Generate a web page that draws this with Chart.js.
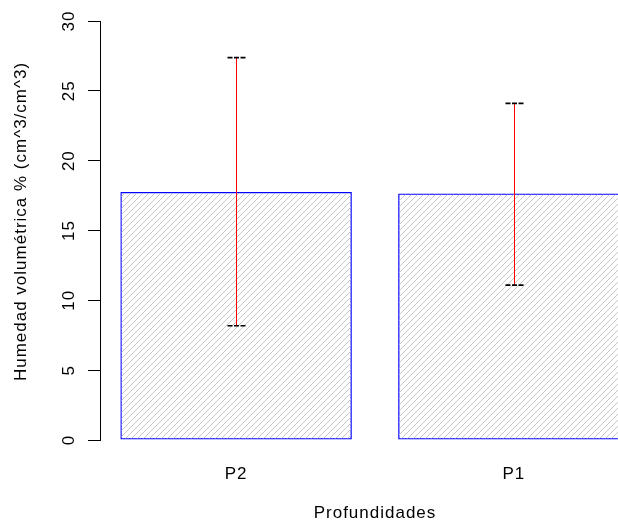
<!DOCTYPE html>
<html>
<head>
<meta charset="utf-8">
<script src="https://cdn.jsdelivr.net/npm/chart.js@4"></script>
<style>
  html, body { margin: 0; padding: 0; background: #fff; overflow: hidden; }
  #wrap { width: 618px; height: 525px; overflow: hidden; }
</style>
</head>
<body>
<div id="wrap"><canvas id="grafico" width="650" height="525"></canvas></div>
<script>
// datos
var categorias = ['P2', 'P1'];
var medias = [17.76, 17.65];
var limInf = [8.18, 11.09];
var limSup = [27.38, 24.1];
var yTicks = [0, 5, 10, 15, 20, 25, 30];
var tituloY = 'Humedad volumétrica % (cm^3/cm^3)';
var tituloX = 'Profundidades';

// posiciones estilo barplot de R (ancho 1, space 0.2)
var space = 0.2;
var posiciones = categorias.map(function (c, i) { return space + i * (1 + space) + 0.5; });
var rango = categorias.length * (1 + space) - space;
var xmin = space - 0.04 * rango;
var xmax = categorias.length * (1 + space) + 0.04 * rango;

var fuente = '"Liberation Sans", Arial, sans-serif';

function rayado() {
  var c = document.createElement('canvas');
  c.width = 6; c.height = 6;
  var g = c.getContext('2d');
  g.strokeStyle = '#c8c8c8';
  g.lineWidth = 1;
  g.beginPath();
  g.moveTo(-1, 7); g.lineTo(7, -1);
  g.moveTo(-1, 1); g.lineTo(1, -1);
  g.moveTo(5, 7); g.lineTo(7, 5);
  g.stroke();
  return g.createPattern(c, 'repeat');
}

var errorBars = {
  id: 'errorBars',
  beforeDraw: function (chart) {
    chart.ctx.letterSpacing = '1px';
  },
  afterDatasetsDraw: function (chart) {
    var ctx = chart.ctx, xs = chart.scales.x, ys = chart.scales.y;
    ctx.save();
    for (var i = 0; i < categorias.length; i++) {
      var x = Math.round(xs.getPixelForValue(posiciones[i])) + 0.5;
      var yt = ys.getPixelForValue(limSup[i]);
      var yb = ys.getPixelForValue(limInf[i]);
      ctx.strokeStyle = '#ff0000';
      ctx.lineWidth = 1;
      ctx.setLineDash([]);
      ctx.beginPath();
      ctx.moveTo(x, yt); ctx.lineTo(x, yb);
      ctx.stroke();
      ctx.strokeStyle = '#000';
      ctx.lineWidth = 1.6;
      ctx.setLineDash([5, 1.5]);
      [yt, yb].forEach(function (y) {
        ctx.beginPath();
        ctx.moveTo(x - 9, y); ctx.lineTo(x + 9, y);
        ctx.stroke();
      });
    }
    // etiquetas del eje y giradas
    ctx.setLineDash([]);
    ctx.fillStyle = '#000';
    ctx.font = '17px ' + fuente;
    ctx.textAlign = 'center';
    ctx.textBaseline = 'middle';
    yTicks.forEach(function (v) {
      ctx.save();
      ctx.translate(69, ys.getPixelForValue(v));
      ctx.rotate(-Math.PI / 2);
      ctx.fillText(String(v), 0, 0);
      ctx.restore();
    });
    // titulo del eje y (R lo deja un poco mas arriba)
    ctx.save();
    ctx.translate(21, (chart.chartArea.top + chart.chartArea.bottom) / 2 - 9);
    ctx.rotate(-Math.PI / 2);
    ctx.fillText(tituloY, 0, 0);
    ctx.restore();
    ctx.restore();
  }
};

new Chart(document.getElementById('grafico'), {
  type: 'bar',
  data: {
    labels: categorias,
    datasets: [{
      data: medias.map(function (m, i) { return { x: posiciones[i], y: m }; }),
      backgroundColor: rayado(),
      borderColor: '#0000ff',
      borderWidth: 1.3,
      borderSkipped: false,
      categoryPercentage: 1,
      barPercentage: 1 / (1 + space)
    }]
  },
  options: {
    responsive: false,
    animation: false,
    events: [],
    layout: { padding: { top: 21, right: 0, left: 0, bottom: 0 } },
    plugins: { legend: { display: false }, tooltip: { enabled: false } },
    scales: {
      x: {
        type: 'linear',
        offset: false,
        min: xmin,
        max: xmax,
        afterBuildTicks: function (scale) {
          scale.ticks = posiciones.map(function (p) { return { value: p }; });
        },
        afterFit: function (scale) { scale.height = 85; },
        border: { display: false },
        grid: { display: false, drawTicks: false, offset: false },
        ticks: {
          autoSkip: false,
          maxRotation: 0,
          padding: 24,
          color: '#000',
          font: { family: fuente, size: 17 },
          callback: function (v, i) { return categorias[i]; }
        },
        title: {
          display: true,
          text: tituloX,
          color: '#000',
          font: { family: fuente, size: 17 },
          padding: { top: 0, bottom: 1 }
        }
      },
      y: {
        min: 0,
        max: 30,
        afterBuildTicks: function (scale) {
          scale.ticks = yTicks.map(function (v) { return { value: v }; });
        },
        afterFit: function (scale) { scale.width = 100; },
        border: { display: true, color: '#000', width: 1 },
        grid: { drawOnChartArea: false, drawTicks: true, tickLength: 12, color: '#000' },
        ticks: { display: false }
      }
    }
  },
  plugins: [errorBars]
});
</script>
</body>
</html>
